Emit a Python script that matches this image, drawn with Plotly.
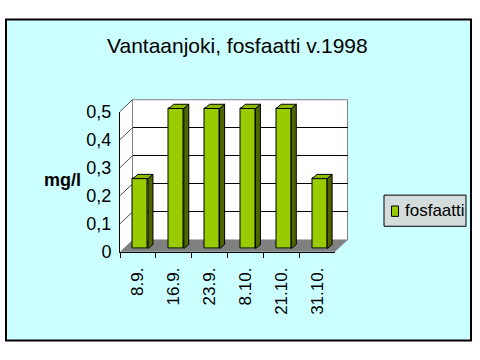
import plotly.graph_objects as go

# ---- data ----
categories = ['8.9.', '16.9.', '23.9.', '8.10.', '21.10.', '31.10.']
values = [0.25, 0.5, 0.5, 0.5, 0.5, 0.25]
series_name = 'fosfaatti'
title_text = 'Vantaanjoki, fosfaatti v.1998'
y_title = 'mg/l'
y_ticks = [0, 0.1, 0.2, 0.3, 0.4, 0.5]

# ---- geometry (pixels) ----
W, H = 480, 360
FX0, FX1 = 120, 335          # front plane x extent
FY0, FY1 = 256, 107.5        # front plane y for value 0 and 0.5
YMAX = 0.5
DX, DY = 12.5, 12.5          # depth offset to back wall
BX, BY = 2.5, 3.2            # bar front face offset
BDX, BDY = 5.0, 4.5          # bar depth
BAR_W = 0.42

PPU = (FY0 - FY1) / YMAX
n = len(categories)
PPC = (FX1 - FX0) / n

def px(x):
    return x / W

def py(y):
    return 1 - y / H

FONT = 'Liberation Sans, Arial, sans-serif'
FRONT = '#99CC00'
SIDE = '#4D6600'
TOP = '#8DBB00'

fig = go.Figure()

# back wall subplot (xy) - only gridlines
fig.add_trace(go.Scatter(x=[0], y=[0], mode='markers', marker=dict(opacity=0),
                         hoverinfo='skip', showlegend=False, xaxis='x', yaxis='y'))

# bars subplot (x2y2)
xs = list(range(n))
fig.add_trace(go.Bar(x=xs, y=values, width=BAR_W, name=series_name,
                     marker=dict(color=FRONT, line=dict(color='black', width=1)),
                     xaxis='x2', yaxis='y2', showlegend=False))

ddx = BDX / PPC
ddy = BDY / PPU
sx, sy, tx, ty = [], [], [], []
for i, v in zip(xs, values):
    r = i + BAR_W / 2
    l = i - BAR_W / 2
    sx += [r, r + ddx, r + ddx, r, r, None]
    sy += [0, ddy, v + ddy, v, 0, None]
    tx += [l, r, r + ddx, l + ddx, l, None]
    ty += [v, v, v + ddy, v + ddy, v, None]
fig.add_trace(go.Scatter(x=sx, y=sy, mode='lines', fill='toself', fillcolor=SIDE,
                         line=dict(color='black', width=1), hoverinfo='skip',
                         showlegend=False, xaxis='x2', yaxis='y2'))
fig.add_trace(go.Scatter(x=tx, y=ty, mode='lines', fill='toself', fillcolor=TOP,
                         line=dict(color='black', width=1), hoverinfo='skip',
                         showlegend=False, xaxis='x2', yaxis='y2'))

# front axes subplot (x3y3)
fig.add_trace(go.Scatter(x=categories, y=values, mode='markers', marker=dict(opacity=0),
                         hoverinfo='skip', showlegend=False, xaxis='x3', yaxis='y3'))

# ---- shapes: walls and floor ----
shapes = []
# outer chart area
shapes.append(dict(type='rect', xref='paper', yref='paper', layer='below',
                   x0=px(6), x1=px(471), y0=py(350), y1=py(10),
                   fillcolor='#CCFFFF', line=dict(color='black', width=2)))
# left wall
lw = 'M {} {} L {} {} L {} {} L {} {} Z'.format(
    px(FX0), py(FY0), px(FX0), py(FY1), px(FX0 + DX), py(FY1 - DY), px(FX0 + DX), py(FY0 - DY))
shapes.append(dict(type='path', path=lw, xref='paper', yref='paper', layer='below',
                   fillcolor='white', line=dict(width=0)))
# back wall
shapes.append(dict(type='rect', xref='paper', yref='paper', layer='below',
                   x0=px(FX0 + DX), x1=px(FX1 + DX), y0=py(FY0 - DY), y1=py(FY1 - DY),
                   fillcolor='white', line=dict(color='#808080', width=1)))
# floor
fl = 'M {} {} L {} {} L {} {} L {} {} Z'.format(
    px(FX0), py(FY0), px(FX1), py(FY0), px(FX1 + DX), py(FY0 - DY), px(FX0 + DX), py(FY0 - DY))
shapes.append(dict(type='path', path=fl, xref='paper', yref='paper', layer='below',
                   fillcolor='#808080', line=dict(width=0)))
# left-wall diagonal gridlines
for v in y_ticks[1:]:
    yf = FY0 - v * PPU
    shapes.append(dict(type='line', xref='paper', yref='paper', layer='below',
                       x0=px(FX0), y0=py(yf), x1=px(FX0 + DX), y1=py(yf - DY),
                       line=dict(color='#505050', width=1)))

# legend box (drawn manually to match the compact Excel legend)
LX0, LX1, LY0, LY1 = 384, 466, 196, 229
shapes.append(dict(type='rect', xref='paper', yref='paper', layer='above',
                   x0=px(LX0), x1=px(LX1), y0=py(LY1), y1=py(LY0),
                   fillcolor='#D4DCDC', line=dict(color='black', width=1)))
shapes.append(dict(type='rect', xref='paper', yref='paper', layer='above',
                   x0=px(391.5), x1=px(398.5), y0=py(218.5), y1=py(207.5),
                   fillcolor=FRONT, line=dict(color='black', width=1)))

annotations = [
    dict(text=title_text, x=px(237), y=py(38), xref='paper', yref='paper',
         showarrow=False, font=dict(family=FONT, size=21, color='black'),
         xanchor='center', yanchor='middle'),
    dict(text='<b>' + y_title + '</b>', x=px(62), y=py(180), xref='paper', yref='paper',
         showarrow=False, font=dict(family=FONT, size=18, color='black'),
         xanchor='center', yanchor='middle'),
    dict(text=series_name, x=px(403), y=py(212.5), xref='paper', yref='paper',
         showarrow=False, font=dict(family=FONT, size=17, color='black'),
         xanchor='left', yanchor='middle'),
]

bar_y0 = FY0 - BY
bar_top_val = 0.6
bar_y1 = bar_y0 - bar_top_val * PPU

fig.update_layout(
    width=W, height=H, margin=dict(l=0, r=0, t=0, b=0),
    paper_bgcolor='white', plot_bgcolor='rgba(0,0,0,0)',
    separators=', ',
    font=dict(family=FONT, size=17, color='black'),
    shapes=shapes, annotations=annotations,
    bargap=0, showlegend=False,
    xaxis=dict(domain=[px(FX0 + DX), px(FX1 + DX)], range=[0, 1], visible=False, anchor='y'),
    yaxis=dict(domain=[py(FY0 - DY), py(FY1 - DY)], range=[0, YMAX], anchor='x',
               showgrid=True, gridcolor='black', gridwidth=1, tickvals=y_ticks[1:-1],
               showticklabels=False, ticks='', zeroline=False, showline=False),
    xaxis2=dict(domain=[px(FX0 + BX), px(FX1 + BX)], range=[-0.5, n - 0.5], visible=False,
                anchor='y2'),
    yaxis2=dict(domain=[py(bar_y0), py(bar_y1)], range=[0, bar_top_val], visible=False,
                anchor='x2'),
    xaxis3=dict(domain=[px(FX0), px(FX1)], type='category', categoryarray=categories,
                categoryorder='array', range=[-0.5, n - 0.5], anchor='y3',
                tickson='boundaries', ticks='outside', ticklen=5, tickcolor='black',
                tickangle=-90, showline=True, linecolor='black', linewidth=1,
                showgrid=False, zeroline=False, tickfont=dict(size=17),
                ticklabelstandoff=8),
    yaxis3=dict(domain=[py(FY0), py(FY1)], range=[0, YMAX], anchor='x3',
                tickvals=y_ticks, ticks='', showline=True, linecolor='black',
                linewidth=1, showgrid=False, zeroline=False, tickfont=dict(size=18),
                ticklabelstandoff=4),
)

fig.write_html('out.html', config={'displayModeBar': False},
               post_script="document.body.style.margin='0';document.body.style.padding='0';"
                           "document.body.style.overflow='hidden';")
